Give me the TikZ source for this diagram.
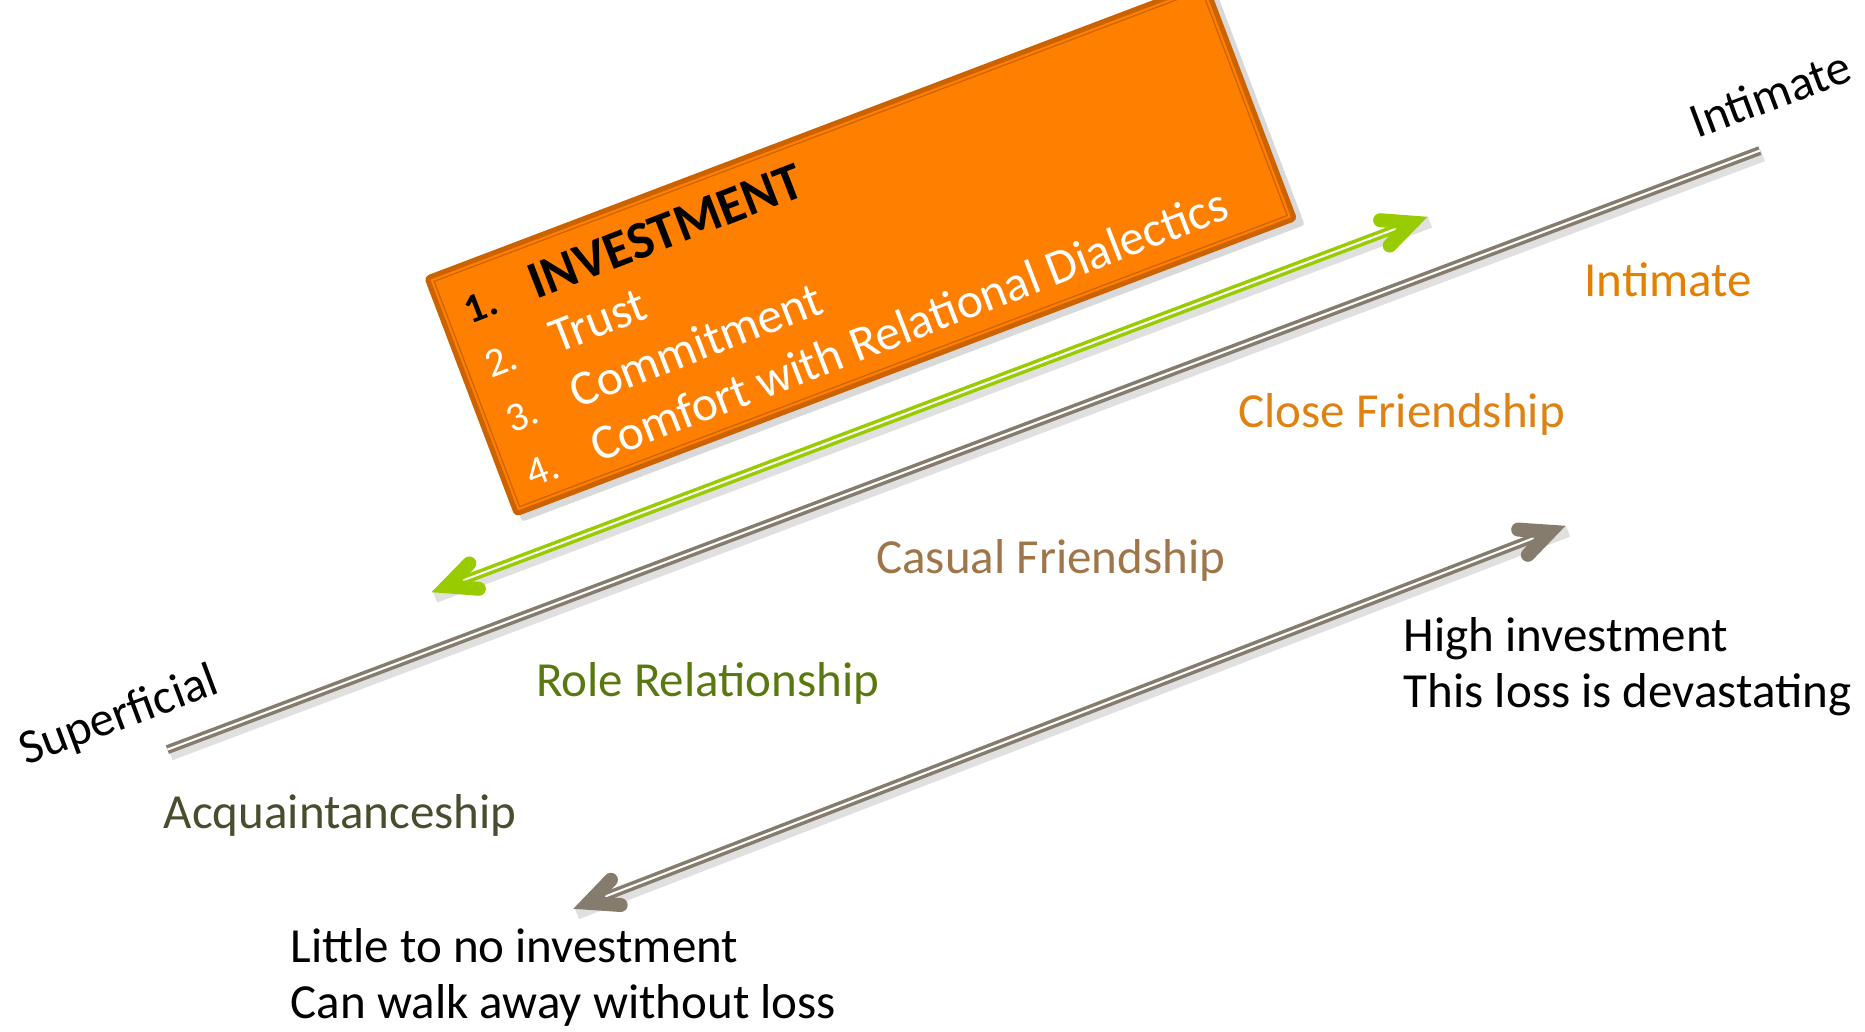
\documentclass[tikz,border=0pt]{standalone}
\usepackage{fontspec}
\setmainfont{Carlito}
\usetikzlibrary{calc}
\definecolor{linegray}{RGB}{134,124,110}
\definecolor{arrowgreen}{RGB}{153,204,0}
\definecolor{boxorange}{RGB}{255,128,0}
\definecolor{boxedge}{RGB}{204,98,0}
\definecolor{lblintimate}{RGB}{228,128,0}
\definecolor{lblclose}{RGB}{222,130,20}
\definecolor{lblcasual}{RGB}{158,118,74}
\definecolor{lblrole}{RGB}{90,120,16}
\definecolor{lblacq}{RGB}{74,76,46}
\tikzset{
  lbl/.style={inner sep=0pt, font=\fontsize{49}{58}\selectfont},
  numlbl/.style={inner sep=0pt, font=\fontsize{41}{48}\selectfont, transform shape, rotate=0.4},
  itemlbl/.style={inner sep=0pt, font=\fontsize{49.5}{60}\selectfont, transform shape, rotate=0.4},
  headlbl/.style={inner sep=0pt, font=\fontsize{53}{60}\selectfont\bfseries, transform shape, rotate=0.4},
  railshadow/.style={line width=12, black, opacity=0.12},
  rail/.style={line width=9},
  railcore/.style={line width=2, white},
}
\newcommand\headtip[3]{%
  \coordinate (hv) at ($(#1)!16pt!(#2)$);
  \draw[#3, line width=14, line cap=round, line join=miter]
     ($(hv)!32pt!25:(#2)$) -- (hv) -- ($(hv)!32pt!-25:(#2)$);
}
\begin{document}
\begin{tikzpicture}[x=1pt,y=1pt]
\useasboundingbox (0,0) rectangle (1865,1031);
\clip (0,0) rectangle (1865,1031);
% coordinates
\coordinate (lineS) at (167.4,281.4);
\coordinate (lineE) at (1759.8,880.4);
\coordinate (gA) at (432,439);
\coordinate (gB) at (1427,814);
\coordinate (aA) at (573.8,122.4);
\coordinate (aB) at (1565,505);
% box
\begin{scope}[shift={(515,514)}, rotate=20.77]
  \fill[black, opacity=0.15, rounded corners=3] (5,-7) rectangle (842,250);
  \draw[boxedge, line width=5, fill=boxorange, rounded corners=3] (2.5,2.5) rectangle (834.5,254.5);
  \draw[boxedge, line width=1.2] (8,8) rectangle (829,249);
  \node[numlbl, anchor=base west, text=black] (n1) at (27,196) {\bfseries 1.};
  \node[headlbl, anchor=base west, text=black] (t1) at (97,196) {INVESTMENT};
  \node[numlbl, anchor=base west, text=white] (n2) at (27,137.7) {2.};
  \node[itemlbl, anchor=base west, text=white] (t2) at (97,137.7) {Trust};
  \node[numlbl, anchor=base west, text=white] (n3) at (27,79.3) {3.};
  \node[itemlbl, anchor=base west, text=white] (t3) at (97,79.3) {Commitment};
  \node[numlbl, anchor=base west, text=white] (n4) at (27,21) {4.};
  \node[itemlbl, anchor=base west, text=white] (t4) at (97,21) {Comfort with Relational Dialectics};
\end{scope}
% main line
\draw[railshadow] ($(lineS)+(3,-5)$) -- ($(lineE)+(3,-5)$);
\draw[rail, linegray] (lineS) -- (lineE);
\draw[railcore] (lineS) -- (lineE);
% green arrow
\draw[railshadow] ($(gA)+(3,-5)$) -- ($(gB)+(3,-5)$);
\draw[rail, arrowgreen] ($(gA)!16pt!(gB)$) -- ($(gB)!16pt!(gA)$);
\draw[railcore] ($(gA)!16pt!(gB)$) -- ($(gB)!16pt!(gA)$);
\headtip{gA}{gB}{arrowgreen}
\headtip{gB}{gA}{arrowgreen}
% gray arrow
\draw[railshadow] ($(aA)+(3,-5)$) -- ($(aB)+(3,-5)$);
\draw[rail, linegray] ($(aA)!16pt!(aB)$) -- ($(aB)!16pt!(aA)$);
\draw[railcore] ($(aA)!16pt!(aB)$) -- ($(aB)!16pt!(aA)$);
\headtip{aA}{aB}{linegray}
\headtip{aB}{aA}{linegray}
% end labels
\node[lbl, anchor=base, rotate=20.6] (sup) at (124,301.7) {Superficial};
\node[lbl, anchor=base, rotate=20.6] (intm) at (1776,921.5) {Intimate};
% stage labels
\node[lbl, text=lblintimate, anchor=base] (lInt) at (1668.3,734.5) {Intimate};
\node[lbl, text=lblclose, anchor=base] (lClose) at (1401.7,603) {Close Friendship};
\node[lbl, text=lblcasual, anchor=base] (lCasual) at (1050.8,457.2) {Casual Friendship};
\node[lbl, text=lblrole, anchor=base] (lRole) at (707.7,334) {Role Relationship};
\node[lbl, text=lblacq, anchor=base] (lAcq) at (340.1,202.5) {Acquaintanceship};
% notes
\node[lbl, anchor=base west] (hi1) at (1403.7,379.4) {High investment};
\node[lbl, anchor=base west] (hi2) at (1403.7,323.3) {This loss is devastating};
\node[lbl, anchor=base west] (lo1) at (290.5,68.6) {Little to no investment};
\node[lbl, anchor=base west] (lo2) at (290.5,12.4) {Can walk away without loss};
\end{tikzpicture}
\end{document}
